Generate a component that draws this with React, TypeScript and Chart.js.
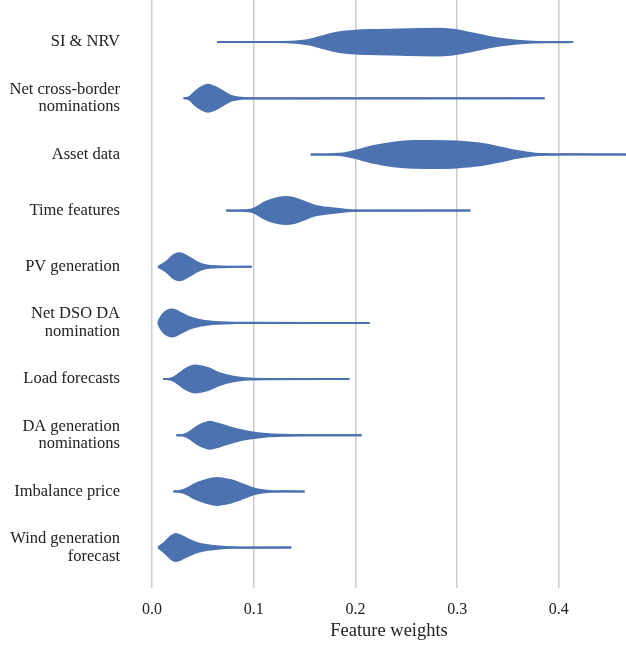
import React, { useEffect, useRef } from "react";
import { Chart, registerables } from "chart.js";

Chart.register(...registerables);

// Feature categories (top to bottom)
const categories: (string | string[])[] = [
  "SI & NRV",
  ["Net cross-border", "nominations"],
  "Asset data",
  "Time features",
  "PV generation",
  ["Net DSO DA", "nomination"],
  "Load forecasts",
  ["DA generation", "nominations"],
  "Imbalance price",
  ["Wind generation", "forecast"],
];

const xTickValues = [0, 0.1, 0.2, 0.3, 0.4];
const xAxisTitle = "Feature weights";

// Violin profiles: x positions (feature weight) and relative density (0..1)
const siNrvX = [0.064, 0.12, 0.136, 0.146, 0.155, 0.166, 0.178, 0.19, 0.2, 0.22, 0.244, 0.265, 0.28, 0.296, 0.309, 0.326, 0.342, 0.359, 0.375, 0.39, 0.414];
const siNrvD = [0, 0, 0.02, 0.08, 0.18, 0.4, 0.64, 0.78, 0.85, 0.9, 0.94, 0.98, 0.99, 0.91, 0.74, 0.47, 0.25, 0.1, 0.03, 0.01, 0];

const crossBorderX = [0.031, 0.034, 0.037, 0.042, 0.049, 0.055, 0.062, 0.0685, 0.078, 0.088, 0.1, 0.386];
const crossBorderD = [0, 0.02, 0.1, 0.47, 0.84, 1.0, 0.84, 0.57, 0.17, 0.04, 0.01, 0];

const assetX = [0.156, 0.175, 0.188, 0.2, 0.218, 0.237, 0.257, 0.276, 0.3, 0.322, 0.342, 0.359, 0.375, 0.391, 0.41, 0.47];
const assetD = [0, 0.02, 0.07, 0.27, 0.62, 0.87, 0.99, 1.0, 0.96, 0.81, 0.52, 0.25, 0.07, 0.02, 0.005, 0];

const timeX = [0.073, 0.088, 0.098, 0.105, 0.111, 0.12, 0.131, 0.14, 0.147, 0.16, 0.177, 0.193, 0.21, 0.313];
const timeD = [0, 0.02, 0.08, 0.35, 0.62, 0.87, 1.0, 0.92, 0.74, 0.37, 0.17, 0.04, 0.01, 0];

const pvX = [0.006, 0.011, 0.015, 0.021, 0.027, 0.032, 0.036, 0.044, 0.054, 0.064, 0.075, 0.098];
const pvD = [0, 0.22, 0.42, 0.84, 1.0, 0.88, 0.72, 0.35, 0.1, 0.04, 0.01, 0];

const dsoX = [0.006, 0.008, 0.011, 0.015, 0.019, 0.023, 0.027, 0.032, 0.037, 0.047, 0.055, 0.063, 0.08, 0.1, 0.214];
const dsoD = [0, 0.35, 0.67, 0.91, 1.0, 0.95, 0.79, 0.6, 0.42, 0.22, 0.12, 0.06, 0.015, 0.005, 0];

const loadX = [0.011, 0.016, 0.019, 0.023, 0.027, 0.034, 0.042, 0.048, 0.054, 0.067, 0.08, 0.096, 0.113, 0.194];
const loadD = [0, 0.01, 0.05, 0.2, 0.42, 0.79, 1.0, 0.95, 0.84, 0.42, 0.17, 0.04, 0.01, 0];

const daGenX = [0.024, 0.03, 0.034, 0.039, 0.044, 0.05, 0.057, 0.063, 0.07, 0.083, 0.096, 0.113, 0.129, 0.146, 0.17, 0.206];
const daGenD = [0, 0.02, 0.12, 0.35, 0.62, 0.86, 1.0, 0.9, 0.74, 0.44, 0.25, 0.1, 0.04, 0.015, 0.005, 0];

const imbalanceX = [0.021, 0.026, 0.031, 0.036, 0.041, 0.051, 0.064, 0.077, 0.085, 0.09, 0.1, 0.109, 0.119, 0.13, 0.15];
const imbalanceD = [0, 0.02, 0.1, 0.28, 0.5, 0.79, 1.0, 0.84, 0.65, 0.5, 0.22, 0.08, 0.02, 0.005, 0];

const windX = [0.006, 0.0095, 0.013, 0.018, 0.023, 0.028, 0.034, 0.044, 0.055, 0.067, 0.08, 0.095, 0.137];
const windD = [0, 0.2, 0.42, 0.79, 1.0, 0.9, 0.67, 0.35, 0.17, 0.07, 0.02, 0.005, 0];

const violinXs = [siNrvX, crossBorderX, assetX, timeX, pvX, dsoX, loadX, daGenX, imbalanceX, windX];
const violinDs = [siNrvD, crossBorderD, assetD, timeD, pvD, dsoD, loadD, daGenD, imbalanceD, windD];

const BLUE = "#4c72b0";
const HALF_WIDTH = 0.24;
const FONT = "'Liberation Serif', 'Times New Roman', Times, serif";
const TEXT = "#222222";

export default function App() {
  const canvasRef = useRef<HTMLCanvasElement>(null);

  useEffect(() => {
    if (!canvasRef.current) return;
    const datasets: any[] = [];
    violinXs.forEach((xs, i) => {
      const ds = violinDs[i];
      const common = {
        borderColor: BLUE,
        backgroundColor: BLUE,
        borderWidth: 2,
        pointRadius: 0,
        pointHoverRadius: 0,
        cubicInterpolationMode: "monotone",
      };
      datasets.push({
        ...common,
        data: xs.map((x, k) => ({ x, y: i - ds[k] * HALF_WIDTH })),
        fill: false,
      });
      datasets.push({
        ...common,
        data: xs.map((x, k) => ({ x, y: i + ds[k] * HALF_WIDTH })),
        fill: "-1",
      });
    });

    const chart = new Chart(canvasRef.current, {
      type: "line",
      data: { datasets },
      options: {
        animation: false,
        responsive: true,
        maintainAspectRatio: false,
        events: [],
        layout: { padding: 0 },
        plugins: {
          legend: { display: false },
          tooltip: { enabled: false },
        },
        scales: {
          x: {
            type: "linear",
            min: 0,
            max: 0.466,
            afterBuildTicks: (s: any) => {
              s.ticks = xTickValues.map((v) => ({ value: v }));
            },
            afterFit: (s: any) => {
              s.height = 60;
              s.paddingLeft = 0;
              s.paddingRight = 0;
            },
            ticks: {
              autoSkip: false,
              maxRotation: 0,
              padding: 12,
              color: TEXT,
              font: { family: FONT, size: 16 },
              callback: (v: any) => Number(v).toFixed(1),
            },
            grid: { color: "#cccccc", lineWidth: 1.5, drawTicks: false },
            border: { display: false },
            title: {
              display: true,
              text: xAxisTitle,
              color: TEXT,
              font: { family: FONT, size: 18.5 },
              padding: { top: 6, bottom: 6 },
            },
          },
          y: {
            type: "linear",
            reverse: true,
            min: -0.75,
            max: 9.72,
            afterBuildTicks: (s: any) => {
              s.ticks = categories.map((_, i) => ({ value: i }));
            },
            afterFit: (s: any) => {
              s.width = 152;
              s.paddingTop = 0;
              s.paddingBottom = 0;
            },
            ticks: {
              autoSkip: false,
              padding: 32,
              color: TEXT,
              font: { family: FONT, size: 16.5, lineHeight: 1.07 },
              callback: (v: any) => categories[Math.round(Number(v))] as any,
            },
            grid: { display: false, drawTicks: false },
            border: { display: false },
          },
        },
      } as any,
    });
    return () => chart.destroy();
  }, []);

  return (
    <div style={{ position: "absolute", left: 0, top: 0, width: 626, height: 648 }}>
      <canvas ref={canvasRef} />
    </div>
  );
}
